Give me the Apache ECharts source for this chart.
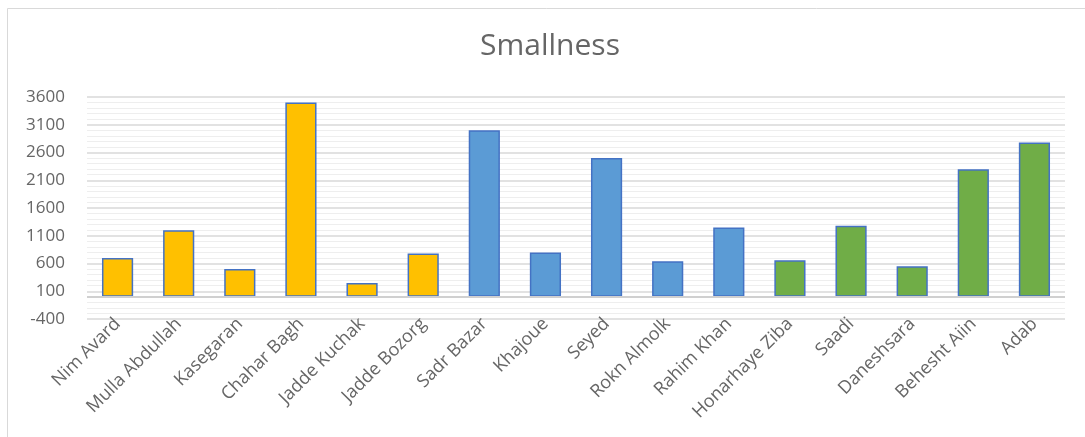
<!DOCTYPE html>
<html lang="en">
<head>
<meta charset="UTF-8">
<title>Smallness</title>
<script type="text/javascript" src="https://cdn.jsdelivr.net/npm/echarts@6/dist/echarts.min.js"></script>
<style>
  html, body { margin: 0; padding: 0; background: #fff; }
  #chart { width: 1085px; height: 437px; }
</style>
</head>
<body>
<div id="chart"></div>
<script type="text/javascript">
// categories (x axis)
var categories = ['Nim Avard', 'Mulla Abdullah', 'Kasegaran', 'Chahar Bagh', 'Jadde Kuchak', 'Jadde Bozorg',
    'Sadr Bazar', 'Khajoue', 'Seyed', 'Rokn Almolk', 'Rahim Khan',
    'Honarhaye Ziba', 'Saadi', 'Daneshsara', 'Behesht Aiin', 'Adab'];
// bar values
var values = [700, 1200, 500, 3500, 250, 780, 3000, 800, 2500, 640, 1250, 660, 1280, 550, 2300, 2780];
// which group each bar belongs to (sets the fill colour)
var groups = [0, 0, 0, 0, 0, 0, 1, 1, 1, 1, 1, 2, 2, 2, 2, 2];
// y axis ticks
var yMin = -400, yMax = 3600, yStep = 500;

var groupColors = ['#FFC000', '#5B9BD5', '#70AD47'];

var chart = echarts.init(document.getElementById('chart'));

var option = {
    backgroundColor: '#fff',
    animation: false,
    title: {
        text: 'Smallness',
        left: 545,
        top: 26,
        textAlign: 'center',
        textStyle: { fontFamily: 'Open Sans', fontSize: 30, fontWeight: 'normal', color: '#666666' }
    },
    graphic: [{
        type: 'rect',
        shape: { x: 7.5, y: 8.5, width: 1100, height: 460 },
        style: { fill: 'none', stroke: '#d9d9d9', lineWidth: 1 },
        silent: true
    }],
    grid: { left: 87, right: 20, top: 97, bottom: 118 },
    xAxis: {
        type: 'category',
        data: categories,
        axisLine: { show: false, onZero: false },
        axisTick: { show: false },
        axisLabel: {
            interval: 0,
            rotate: 45,
            margin: 2,
            fontFamily: 'Open Sans',
            fontSize: 18,
            color: '#666666'
        }
    },
    yAxis: {
        type: 'value',
        min: yMin,
        max: yMax,
        interval: yStep,
        axisLine: { show: false },
        axisTick: { show: false },
        axisLabel: {
            margin: 22,
            fontFamily: 'Open Sans',
            fontSize: 17,
            color: '#666666',
            formatter: function (v) { return String(v); }
        },
        splitLine: { lineStyle: { color: '#d9d9d9', width: 1.5 } },
        minorTick: { show: false, splitNumber: 5 },
        minorSplitLine: { show: true, lineStyle: { color: '#eeeeee', width: 1 } }
    },
    series: [{
        type: 'bar',
        barWidth: '51%',
        data: values.map(function (v, i) {
            return { value: v, itemStyle: { color: groupColors[groups[i]] } };
        }),
        itemStyle: { borderColor: '#4472C4', borderWidth: 1.5 },
        markLine: {
            silent: true,
            symbol: 'none',
            label: { show: false },
            lineStyle: { type: 'solid', color: '#d0d0d0', width: 2 },
            data: [{ yAxis: 0 }]
        }
    }]
};

chart.setOption(option);
</script>
</body>
</html>
